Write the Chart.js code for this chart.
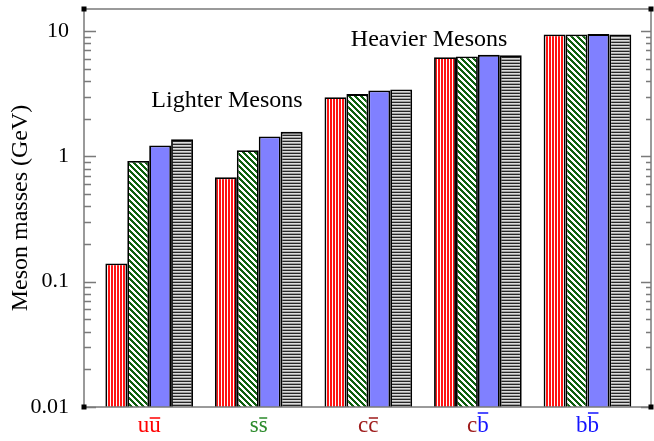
<!DOCTYPE html>
<html>
<head>
<meta charset="utf-8">
<script src="https://cdn.jsdelivr.net/npm/chart.js@4.4.0/dist/chart.umd.min.js"></script>
<style>
  html, body { margin: 0; padding: 0; background: #fff; }
  #wrap { width: 654px; height: 441px; }
</style>
</head>
<body>
<div id="wrap"><canvas id="mesonChart"></canvas></div>
<script>
// meson = quark + antiquark
const quarks = ['u', 's', 'c', 'c', 'b'];
const antiquarks = ['u', 's', 'c', 'b', 'b'];

// masses (GeV), four calculations per meson
const massesRed = [0.14, 0.68, 2.97, 6.18, 9.38];
const massesGreen = [0.92, 1.12, 3.14, 6.27, 9.38];
const massesBlue = [1.22, 1.44, 3.36, 6.46, 9.46];
const massesGray = [1.37, 1.57, 3.42, 6.42, 9.40];

const yTicks = [0.01, 0.1, 1, 10];

// label colours per flavour
const flavourColor = { u: '#ff0000', s: '#2a8a2a', c: '#9e1b1b', b: '#1414ff' };

const SERIF = '"Liberation Serif", "Times New Roman", serif';

// small tiled fills for the hatched bars
function makePattern(w, h, paint) {
    const tile = document.createElement('canvas');
    tile.width = w;
    tile.height = h;
    const g = tile.getContext('2d');
    paint(g);
    return g.createPattern(tile, 'repeat');
}

const redStripes = makePattern(3, 1, g => {
    g.fillStyle = '#ff1414';
    g.fillRect(0, 0, 3, 1);
    g.fillStyle = '#ffffff';
    g.fillRect(2, 0, 1, 1);
});

const greenHatch = makePattern(6, 6, g => {
    g.fillStyle = '#ffffff';
    g.fillRect(0, 0, 6, 6);
    g.fillStyle = '#0e600e';
    for (let y = 0; y < 6; y++) {
        for (let x = 0; x < 6; x++) {
            if (((x - y) % 6 + 6) % 6 < 3) g.fillRect(x, y, 1, 1);
        }
    }
});

const grayLines = makePattern(1, 3, g => {
    const rows = ['#262626', '#dcdcdc', '#a0a0a0'];
    rows.forEach((c, i) => {
        g.fillStyle = c;
        g.fillRect(0, i, 1, 1);
    });
});

const toPoints = arr => arr.map((v, i) => ({ x: i, y: v }));

// no extra room for edge labels, the frame is drawn by hand
const noPadding = s => {
    s.paddingTop = 0;
    s.paddingBottom = 0;
    s.paddingLeft = 0;
    s.paddingRight = 0;
};

// frame, inward log ticks, category labels and notes
const framePlugin = {
    id: 'frame',
    afterDraw(chart) {
        const { ctx, chartArea: a, scales: { x, y } } = chart;
        ctx.save();

        ctx.strokeStyle = '#7a7a7a';
        ctx.lineWidth = 1.5;
        for (let e = -2; e <= 1; e++) {
            for (let m = 1; m <= 9; m++) {
                const v = m * Math.pow(10, e);
                if (v > y.max || v < y.min) continue;
                const py = Math.round(y.getPixelForValue(v)) + 0.5;
                const major = m === 1;
                ctx.beginPath();
                ctx.moveTo(a.left, py);
                ctx.lineTo(a.left + (major ? 12 : 7), py);
                ctx.moveTo(a.right, py);
                ctx.lineTo(a.right - (major ? 10 : 5), py);
                ctx.stroke();
            }
        }
        ctx.strokeRect(a.left, a.top, a.right - a.left, a.bottom - a.top);

        ctx.fillStyle = '#000';
        [[a.left, a.top], [a.right, a.top], [a.left, a.bottom], [a.right, a.bottom]]
            .forEach(([cx, cy]) => ctx.fillRect(cx - 2.5, cy - 2.5, 5, 5));

        // category labels: quark, then antiquark with a bar over it
        ctx.font = '23px ' + SERIF;
        ctx.textAlign = 'left';
        ctx.textBaseline = 'alphabetic';
        const base = a.bottom + 25;
        quarks.forEach((q, i) => {
            const aq = antiquarks[i];
            const cx = x.getPixelForValue(i);
            const w1 = ctx.measureText(q).width;
            const m2 = ctx.measureText(aq);
            const left = cx - (w1 + m2.width) / 2;
            ctx.fillStyle = flavourColor[q];
            ctx.fillText(q, left, base);
            ctx.fillStyle = flavourColor[aq];
            ctx.fillText(aq, left + w1, base);
            const barY = base - m2.actualBoundingBoxAscent - 3;
            ctx.strokeStyle = flavourColor[aq];
            ctx.lineWidth = 1.5;
            ctx.beginPath();
            ctx.moveTo(left + w1 + 0.5, barY);
            ctx.lineTo(left + w1 + m2.width - 0.5, barY);
            ctx.stroke();
        });

        ctx.font = '24px ' + SERIF;
        ctx.fillStyle = '#000';
        ctx.textAlign = 'center';
        ctx.fillText('Lighter Mesons', x.getPixelForValue(0.71), y.getPixelForValue(2.5));
        ctx.fillText('Heavier Mesons', x.getPixelForValue(2.555), y.getPixelForValue(7.65));

        ctx.restore();
    }
};

new Chart(document.getElementById('mesonChart'), {
    type: 'bar',
    data: {
        datasets: [
            { label: 'set 1', data: toPoints(massesRed), backgroundColor: redStripes },
            { label: 'set 2', data: toPoints(massesGreen), backgroundColor: greenHatch },
            { label: 'set 3', data: toPoints(massesBlue), backgroundColor: '#8080ff' },
            { label: 'set 4', data: toPoints(massesGray), backgroundColor: grayLines }
        ]
    },
    options: {
        responsive: true,
        maintainAspectRatio: false,
        animation: false,
        layout: { padding: { top: 9, right: 3, bottom: 34, left: 0 } },
        datasets: {
            bar: {
                borderColor: '#000',
                borderWidth: 1.8,
                categoryPercentage: 0.8,
                barPercentage: 1.0
            }
        },
        scales: {
            x: {
                type: 'linear',
                display: false,
                offset: false,
                grid: { offset: false },
                min: -0.595,
                max: 4.58,
                bounds: 'data',
                afterBuildTicks: s => { s.ticks = quarks.map((q, i) => ({ value: i })); },
                afterFit: noPadding
            },
            y: {
                type: 'logarithmic',
                min: 0.01,
                max: 15,
                bounds: 'data',
                grid: { display: false },
                border: { display: false },
                afterBuildTicks: s => { s.ticks = yTicks.map(v => ({ value: v })); },
                afterFit: s => { noPadding(s); s.width = 84; },
                ticks: {
                    color: '#000',
                    padding: 7,
                    font: { family: SERIF, size: 22 },
                    callback: v => String(v)
                },
                title: {
                    display: true,
                    text: 'Meson masses (GeV)',
                    color: '#000',
                    font: { family: SERIF, size: 24 },
                    padding: { top: 6, bottom: 0 }
                }
            }
        },
        plugins: {
            legend: { display: false },
            tooltip: { enabled: false }
        }
    },
    plugins: [framePlugin]
});
</script>
</body>
</html>
